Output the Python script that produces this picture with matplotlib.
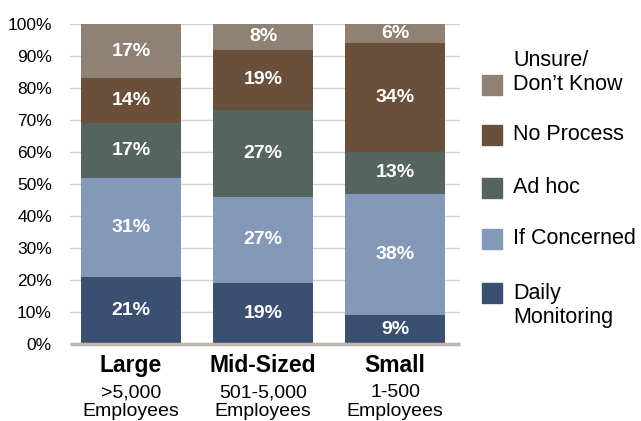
import numpy as np
import matplotlib
matplotlib.use("Agg")
import matplotlib.pyplot as plt
from matplotlib.patches import Rectangle
from matplotlib.transforms import blended_transform_factory

plt.rcParams['font.family'] = ['Liberation Sans', 'DejaVu Sans']

# --- data ---
groups = ['Large', 'Mid-Sized', 'Small']
group_subs = ['>5,000', '501-5,000', '1-500']
series = ['Daily Monitoring', 'If Concerned', 'Ad hoc', 'No Process', 'Unsure/ Don\u2019t Know']
daily = [21, 19, 9]
concerned = [31, 27, 38]
adhoc = [17, 27, 13]
no_process = [14, 19, 34]
unsure = [17, 8, 6]
colors = ['#3b4f71', '#8399b7', '#56645f', '#6a4f3a', '#8f8173']
legend_lines = [['Daily', 'Monitoring'], ['If Concerned'], ['Ad hoc'],
                ['No Process'], ['Unsure/', 'Don\u2019t Know']]
legend_anchor = [0, 0, 0, 0, 1]   # which text line sits beside the swatch

values = [daily, concerned, adhoc, no_process, unsure]

W, H = 641, 421
fig = plt.figure(figsize=(W / 100, H / 100), dpi=100)
ax = fig.add_axes([70 / W, 1 - 344 / H, 390 / W, 320 / H])

x = np.arange(len(groups))
bottom = np.zeros(len(groups))
for vals, col in zip(values, colors):
    vals = np.array(vals)
    ax.bar(x, vals, width=0.76, bottom=bottom, color=col, zorder=3)
    for xi, b, v in zip(x, bottom, vals):
        ax.text(xi, b + v / 2, f'{v}%', ha='center', va='center', color='white',
                fontsize=14, fontweight='bold', zorder=4)
    bottom += vals

ax.set_xlim(-0.46, 2.49)
ax.set_ylim(0, 100)
ax.set_yticks(np.arange(0, 101, 10))
ax.set_yticklabels([f'{t}%' for t in range(0, 101, 10)], fontsize=12.5)
ax.tick_params(axis='y', length=0, pad=13)
ax.set_xticks([])
ax.grid(axis='y', color='#d6d0ca', linewidth=1, zorder=0)
for s in ['top', 'right', 'left']:
    ax.spines[s].set_visible(False)
ax.spines['bottom'].set_color('#bdb6ae')
ax.spines['bottom'].set_linewidth(2.5)
ax.spines['bottom'].set_capstyle('butt')
ax.spines['bottom'].set_zorder(5)

# category labels under bars
tr = blended_transform_factory(ax.transData, ax.transAxes)
for xi, g, sub in zip(x, groups, group_subs):
    ax.text(xi, -0.0875, g, transform=tr, ha='center', va='baseline',
            fontsize=16.5, fontweight='bold')
    ax.text(xi, -0.166, sub, transform=tr, ha='center', va='baseline', fontsize=14)
    ax.text(xi, -0.226, 'Employees', transform=tr, ha='center', va='baseline', fontsize=14)

# legend, drawn by hand to keep multi-line labels next to the swatches
sq_centers = [293, 239, 188, 135, 85]
for lines, anc, col, yc in zip(legend_lines, legend_anchor, colors, sq_centers):
    fig.patches.append(Rectangle((482 / W, 1 - (yc + 10) / H), 20 / W, 20 / H,
                                 transform=fig.transFigure, color=col))
    for k, line in enumerate(lines):
        yy = yc + (k - anc) * 25
        fig.text(513 / W, 1 - yy / H, line, ha='left', va='center', fontsize=15.5)

fig.savefig('out.png', dpi=100)
